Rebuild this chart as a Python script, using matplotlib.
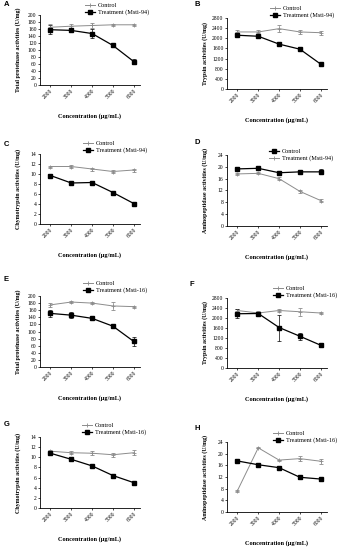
import matplotlib
matplotlib.use("Agg")
import matplotlib.pyplot as plt
from matplotlib.lines import Line2D

plt.rcParams['font.family'] = ['Liberation Serif', 'DejaVu Serif']

conc = ["2000", "3000", "4000", "5000", "6000"]
x = [1, 2, 3, 4, 5]

# panel A: total proteinase, Msti-94
a_ctrl = [165, 168, 170, 172, 172]
a_ctrl_err = [8, 5, 8, 3, 3]
a_trt = [158, 156, 147, 113, 67]
a_trt_err = [12, 6, 14, 3, 6]

# panel B: trypsin, Msti-94
b_ctrl = [2250, 2250, 2380, 2250, 2220]
b_ctrl_err = [60, 60, 150, 80, 80]
b_trt = [2120, 2080, 1770, 1570, 980]
b_trt_err = [40, 40, 30, 30, 30]

# panel C: chymotrypsin, Msti-94
c_ctrl = [11.5, 11.5, 11.0, 10.5, 10.8]
c_ctrl_err = [0.2, 0.3, 0.3, 0.3, 0.3]
c_trt = [9.7, 8.2, 8.3, 6.3, 4.1]
c_trt_err = [0.3, 0.2, 0.2, 0.1, 0.3]

# panel D: aminopeptidase, Msti-94 (control drawn black here)
d_ctrl = [19.3, 19.5, 18.0, 18.3, 18.3]
d_ctrl_err = [0.5, 0.4, 0.6, 0.3, 0.8]
d_trt = [17.6, 17.8, 16.0, 11.7, 8.6]
d_trt_err = [0.4, 0.3, 0.4, 0.4, 0.4]

# panel E: total proteinase, Msti-16
e_ctrl = [175, 183, 180, 172, 170]
e_ctrl_err = [6, 2, 3, 12, 3]
e_trt = [151, 146, 137, 115, 72]
e_trt_err = [10, 8, 3, 3, 12]

# panel F: trypsin, Msti-16
f_ctrl = [2300, 2200, 2300, 2250, 2200]
f_ctrl_err = [80, 100, 50, 150, 40]
f_trt = [2170, 2180, 1620, 1270, 910]
f_trt_err = [180, 80, 520, 150, 80]

# panel G: chymotrypsin, Msti-16
g_ctrl = [11.2, 10.9, 10.8, 10.5, 10.9]
g_ctrl_err = [0.3, 0.3, 0.4, 0.4, 0.5]
g_trt = [10.8, 9.6, 8.3, 6.4, 5.0]
g_trt_err = [0.2, 0.1, 0.2, 0.3, 0.2]

# panel H: aminopeptidase, Msti-16
h_ctrl = [7.3, 22.0, 17.8, 18.3, 17.4]
h_ctrl_err = [0.4, 0.2, 0.2, 0.8, 0.8]
h_trt = [17.5, 16.2, 15.2, 11.9, 11.3]
h_trt_err = [0.4, 0.2, 0.3, 0.5, 0.5]

W, H = 338, 550
GRAY = "#8c8c8c"

ylab_tp = "Total proteinase activities (U/mg)"
ylab_tr = "Trypsin activities (U/mg)"
ylab_ch = "Chymotrypsin activities (U/mg)"
ylab_am = "Aminopeptidase activities (U/mg)"

# letter, left px, top px, bottom px, ylim max, ystep, ylabel, series, strain, legend pos, letter pos, control black?
panels = [
    ("A", 40, 15, 85, 200, 20, ylab_tp, (a_ctrl, a_ctrl_err, a_trt, a_trt_err), "Msti-94", (85, 3), (4, 5), False),
    ("B", 227, 18, 89, 2800, 400, ylab_tr, (b_ctrl, b_ctrl_err, b_trt, b_trt_err), "Msti-94", (270, 6), (195, 5), False),
    ("C", 40, 154, 224, 14, 2, ylab_ch, (c_ctrl, c_ctrl_err, c_trt, c_trt_err), "Msti-94", (83, 141), (4, 145), False),
    ("D", 227, 155, 226, 24, 4, ylab_am, (d_ctrl, d_ctrl_err, d_trt, d_trt_err), "Msti-94", (269, 149), (195, 142), True),
    ("E", 40, 296, 367, 200, 20, ylab_tp, (e_ctrl, e_ctrl_err, e_trt, e_trt_err), "Msti-16", (83, 281), (4, 280), False),
    ("F", 227, 298, 368, 2800, 400, ylab_tr, (f_ctrl, f_ctrl_err, f_trt, f_trt_err), "Msti-16", (273, 286), (190, 284), False),
    ("G", 40, 437, 508, 14, 2, ylab_ch, (g_ctrl, g_ctrl_err, g_trt, g_trt_err), "Msti-16", (82, 423), (4, 424), False),
    ("H", 227, 442, 512, 24, 4, ylab_am, (h_ctrl, h_ctrl_err, h_trt, h_trt_err), "Msti-16", (273, 431), (194, 428), False),
]

black_style = dict(color="black", marker="s", markersize=2.6, lw=0.9)
gray_style = dict(color=GRAY, marker="+", markersize=3.2, lw=0.7, markeredgewidth=0.6)
err_kw = dict(elinewidth=0.5, capsize=1.2, capthick=0.5)

fig = plt.figure(figsize=(W / 100, H / 100), dpi=100)

for (letter, l, t, b, ymax, ystep, ylab, series, strain, legpos, letpos, ctrl_black) in panels:
    ctrl, ctrl_err, trt, trt_err = series
    ax = fig.add_axes([l / W, 1 - b / H, 100 / W, (b - t) / H])

    cs = black_style if ctrl_black else gray_style
    ts = gray_style if ctrl_black else black_style
    ax.errorbar(x, ctrl, yerr=ctrl_err, **cs, **err_kw)
    ax.errorbar(x, trt, yerr=trt_err, **ts, **err_kw)

    handles = [Line2D([], [], label="Control", **cs),
               Line2D([], [], label=f"Treatment ({strain})", **ts)]

    ax.set_xlim(0.5, 5.3)
    ax.set_ylim(0, ymax)
    ax.set_yticks(range(0, ymax + 1, ystep))
    ax.set_xticks(x)
    ax.set_xticklabels(conc, rotation=45, ha="right", rotation_mode="anchor")
    ax.tick_params(labelsize=4.1, width=0.5, length=1.5, pad=1)
    for s in ["top", "right"]:
        ax.spines[s].set_visible(False)
    for s in ["left", "bottom"]:
        ax.spines[s].set_linewidth(0.6)

    ax.set_ylabel(ylab, fontsize=4.3, fontweight="bold")
    ax.yaxis.set_label_coords(-0.19, 0.5)
    ax.set_xlabel("Concentration (\u03bcg/mL)", fontsize=4.6, fontweight="bold")
    ax.xaxis.set_label_coords(0.5, -0.40)

    ax.legend(handles=handles, loc="upper left",
              bbox_to_anchor=(legpos[0] / W, 1 - legpos[1] / H),
              bbox_transform=fig.transFigure, frameon=False, fontsize=4.5,
              handlelength=1.6, handletextpad=0.5, labelspacing=0.15,
              borderpad=0, borderaxespad=0)

    fig.text(letpos[0] / W, 1 - letpos[1] / H, letter, fontsize=5.5,
             fontweight="bold", family=["Liberation Sans", "DejaVu Sans"],
             ha="left", va="center")

fig.savefig("out.png", dpi=100)
